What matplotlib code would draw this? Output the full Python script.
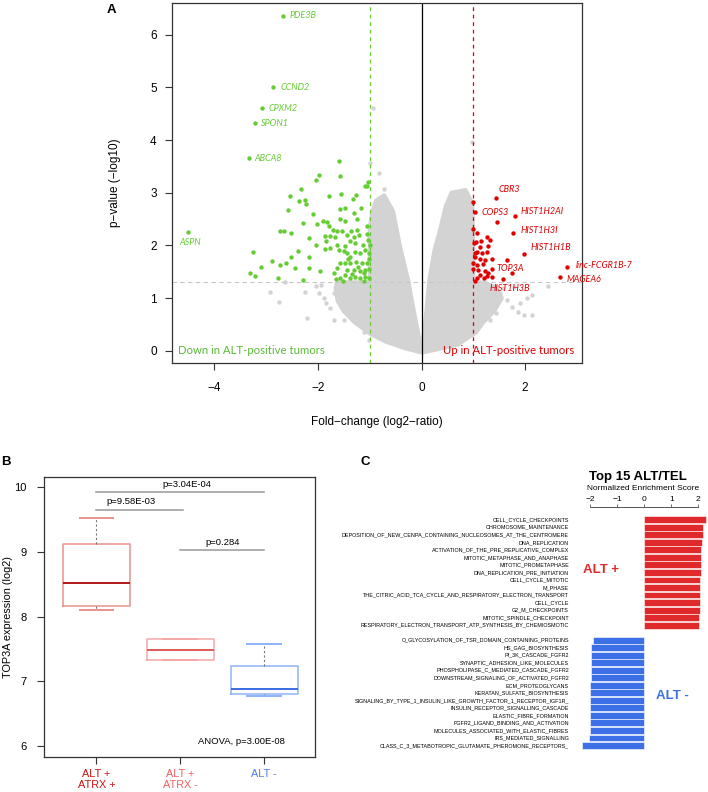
import numpy as np
import matplotlib
matplotlib.use('Agg')
import matplotlib.pyplot as plt

plt.rcParams['font.family'] = ['Liberation Sans', 'DejaVu Sans']

# ---------------- panel A : volcano (log2 fold change vs -log10 p)
green_fc = [-1.59, -1.57, -1.99, -2.03, -1.03, -1.05, -1.10, -2.55, -2.32, -2.36, -2.26, -2.23,
            -1.78, -1.56, -1.33, -1.26, -2.57, -1.58, -1.47, -1.16, -1.30, -2.10, -2.29, -1.90,
            -1.83, -1.78, -2.01, -1.57, -1.47, -1.25, -2.74, -2.65, -2.53, -2.17, -1.71, -1.63,
            -1.53, -1.36, -1.25, -1.05, -1.86, -1.76, -1.67, -1.43, -1.30, -1.20, -1.05, -2.03,
            -1.84, -1.76, -1.87, -1.63, -1.60, -1.47, -1.39, -1.28, -1.13, -1.04, -3.25, -2.39,
            -2.52, -2.88, -2.17, -2.61, -2.74, -2.44, -2.17, -1.97, -3.11, -3.31, -3.21, -2.78,
            -2.28, -1.44, -1.38, -1.28, -1.18, -1.09, -1.57, -1.47, -1.38, -1.26, -1.15, -1.05,
            -1.63, -1.44, -1.31, -1.18, -1.09, -1.70, -1.57, -1.47, -1.38, -1.28, -1.18, -1.09,
            -1.02, -1.12, -1.02, -1.02, -1.22, -1.35, -1.52, -1.12, -1.65, -1.00, -1.02, -1.42,
            -1.50]
green_p = [3.61, 3.32, 3.34, 3.25, 3.21, 3.13, 3.12, 2.94, 3.07, 2.85, 2.86, 2.79,
           2.93, 2.97, 2.88, 2.95, 2.67, 2.69, 2.72, 2.72, 2.61, 2.59, 2.43, 2.47,
           2.45, 2.37, 2.41, 2.50, 2.47, 2.50, 2.28, 2.27, 2.24, 2.14, 2.29, 2.28,
           2.27, 2.28, 2.29, 2.36, 2.18, 2.18, 2.16, 2.19, 2.16, 2.20, 2.22, 2.01,
           2.09, 1.95, 1.93, 2.01, 1.91, 1.99, 2.09, 2.04, 2.01, 2.10, 1.87, 1.89,
           1.78, 1.71, 1.78, 1.66, 1.63, 1.57, 1.57, 1.52, 1.60, 1.48, 1.42, 1.39,
           1.34, 1.85, 1.79, 1.88, 1.85, 1.91, 1.66, 1.66, 1.66, 1.69, 1.66, 1.66,
           1.57, 1.53, 1.53, 1.52, 1.53, 1.47, 1.38, 1.44, 1.38, 1.41, 1.38, 1.41,
           1.38, 1.47, 1.75, 1.55, 1.60, 1.45, 1.33, 1.32, 1.36, 2.00, 1.85, 1.75,
           1.90]

green_genes = ['PDE3B', 'CCND2', 'CPXM2', 'SPON1', 'ABCA8', 'ASPN']
green_gene_fc = [-2.68, -2.86, -3.08, -3.22, -3.33, -4.52]
green_gene_p = [6.36, 5.00, 4.60, 4.32, 3.65, 2.26]

red_fc = [1.00, 1.46, 0.99, 1.08, 1.26, 1.33, 1.15, 1.01, 1.29, 1.07, 1.17, 1.26,
          1.04, 1.13, 1.23, 1.36, 1.66, 1.00, 1.08, 1.19, 1.00, 1.10, 1.23, 1.75,
          1.13, 1.26, 1.36, 1.07, 1.04, 1.20, 1.29, 1.04, 1.12, 1.06]
red_p = [2.83, 2.45, 2.32, 2.23, 2.16, 2.10, 2.09, 2.04, 1.99, 1.88, 1.85, 1.88,
         1.78, 1.74, 1.72, 1.74, 1.72, 1.67, 1.63, 1.65, 1.55, 1.53, 1.52, 1.47,
         1.44, 1.42, 1.41, 1.38, 1.33, 1.38, 1.47, 1.85, 1.98, 2.07]

red_genes = ['CBR3', 'COPS3', 'HIST1H2AI', 'HIST1H3I', 'HIST1H1B', 'TOP3A',
             'linc-FCGR1B-7', 'MAGEA6', 'HIST1H3B']
red_gene_fc = [1.44, 1.04, 1.80, 1.76, 1.97, 1.36, 2.81, 2.68, 1.58]
red_gene_p = [2.90, 2.64, 2.56, 2.24, 1.83, 1.55, 1.59, 1.41, 1.36]

# scattered non-significant genes
gray_fc = [-2.92, -2.75, -2.63, -2.21, -2.25, -2.03, -1.95, -1.98, -1.88, -1.84, -1.76, -1.69,
           -1.50, -1.34, -1.11, -1.69, -1.59, -1.66, -1.02,
           -0.93, -0.99, -0.83, -0.72, -0.80, 0.98, 0.67, 0.88, 0.60,
           2.45, 2.13, 2.03, 1.91, 2.13, 1.97, 1.87, 1.75, 1.65, 1.52, 1.58, 1.44, 1.33, 1.78]
gray_p = [1.12, 0.92, 1.30, 0.62, 1.12, 1.24, 1.25, 1.09, 1.00, 0.90, 0.81, 0.58,
          0.58, 0.68, 0.36, 1.09, 1.19, 1.28, 0.20,
          4.60, 3.56, 3.37, 3.07, 2.88, 3.96, 3.00, 2.98, 2.88,
          1.23, 1.06, 1.00, 0.90, 0.68, 0.68, 0.74, 0.84, 0.96, 1.09, 1.19, 0.71, 0.58, 1.22]

# outline of the dense grey cloud (left and right lobes)
left_cloud_fc = [0.0, -0.35, -0.7, -1.0, -1.3, -1.5, -1.62, -1.66, -1.6, -1.0, -1.0, -0.96,
                 -0.88, -0.72, -0.55, -0.42, -0.26, -0.14, -0.04]
left_cloud_p = [-0.03, 0.06, 0.18, 0.33, 0.55, 0.75, 0.95, 1.2, 1.3, 1.3, 2.3, 2.6,
                2.85, 2.95, 2.65, 2.0, 1.34, 0.71, 0.2]
right_cloud_fc = [0.02, 0.04, 0.10, 0.15, 0.25, 0.36, 0.47, 0.58, 0.85, 0.98, 1.0, 1.0,
                  1.2, 1.45, 1.55, 1.4, 1.2, 1.05, 0.7, 0.3]
right_cloud_p = [-0.03, 0.27, 0.8, 1.34, 1.9, 2.3, 2.75, 3.0, 3.05, 2.8, 2.0, 1.3,
                 1.3, 1.2, 1.0, 0.75, 0.55, 0.35, 0.12, 0.03]

# ---------------- panel B : TOP3A expression
groups = ['ALT +\nATRX +', 'ALT +\nATRX -', 'ALT -']
box_med = [8.52, 7.49, 6.88]
box_q1 = [8.17, 7.33, 6.81]
box_q3 = [9.12, 7.65, 7.23]
box_lo = [8.10, 7.33, 6.78]
box_hi = [9.52, 7.65, 7.57]
pvals = ['p=3.04E-04', 'p=9.58E-03', 'p=0.284']
pairs = [(1, 3), (1, 2.03), (2, 3)]
pair_y = [9.92, 9.65, 9.03]

# ---------------- panel C : GSEA
up_sets = ['CELL_CYCLE_CHECKPOINTS', 'CHROMOSOME_MAINTENANCE',
           'DEPOSITION_OF_NEW_CENPA_CONTAINING_NUCLEOSOMES_AT_THE_CENTROMERE', 'DNA_REPLICATION',
           'ACTIVATION_OF_THE_PRE_REPLICATIVE_COMPLEX', 'MITOTIC_METAPHASE_AND_ANAPHASE',
           'MITOTIC_PROMETAPHASE', 'DNA_REPLICATION_PRE_INITIATION', 'CELL_CYCLE_MITOTIC', 'M_PHASE',
           'THE_CITRIC_ACID_TCA_CYCLE_AND_RESPIRATORY_ELECTRON_TRANSPORT', 'CELL_CYCLE',
           'G2_M_CHECKPOINTS', 'MITOTIC_SPINDLE_CHECKPOINT',
           'RESPIRATORY_ELECTRON_TRANSPORT_ATP_SYNTHESIS_BY_CHEMIOSMOTIC']
up_nes = [2.28, 2.18, 2.18, 2.14, 2.10, 2.09, 2.09, 2.08, 2.06, 2.06, 2.06, 2.06, 2.06, 2.04, 2.01]
down_sets = ['O_GLYCOSYLATION_OF_TSR_DOMAIN_CONTAINING_PROTEINS', 'HS_GAG_BIOSYNTHESIS',
             'PI_3K_CASCADE_FGFR2', 'SYNAPTIC_ADHESION_LIKE_MOLECULES',
             'PHOSPHOLIPASE_C_MEDIATED_CASCADE_FGFR2', 'DOWNSTREAM_SIGNALING_OF_ACTIVATED_FGFR2',
             'ECM_PROTEOGLYCANS', 'KERATAN_SULFATE_BIOSYNTHESIS',
             'SIGNALING_BY_TYPE_1_INSULIN_LIKE_GROWTH_FACTOR_1_RECEPTOR_IGF1R_',
             'INSULIN_RECEPTOR_SIGNALLING_CASCADE', 'ELASTIC_FIBRE_FORMATION',
             'FGFR2_LIGAND_BINDING_AND_ACTIVATION', 'MOLECULES_ASSOCIATED_WITH_ELASTIC_FIBRES',
             'IRS_MEDIATED_SIGNALLING', 'CLASS_C_3_METABOTROPIC_GLUTAMATE_PHEROMONE_RECEPTORS_']
down_nes = [-1.90, -1.95, -1.95, -1.95, -1.95, -1.95, -1.99, -2.01, -2.01, -2.01, -2.01, -2.01,
            -2.01, -2.04, -2.30]

GREEN = '#66CC33'
RED = '#E00000'
GRAY = '#D3D3D3'

fig = plt.figure(figsize=(7.08, 7.92), dpi=100)

# ================= A
ax = fig.add_axes([172/708, 1-363/792, 410/708, 360/792])
ax.fill(left_cloud_fc, left_cloud_p, color=GRAY, lw=3, joinstyle='round', zorder=1)
ax.fill(right_cloud_fc, right_cloud_p, color=GRAY, lw=3, joinstyle='round', zorder=1)
ax.scatter(gray_fc, gray_p, s=10, c=GRAY, lw=0, zorder=2)
ax.axhline(1.3, color='#C8C8C8', lw=0.8, ls=(0, (4, 3)), zorder=2.5)
ax.axvline(0, color='black', lw=0.9, zorder=2.5)
ax.axvline(-1, color=GREEN, lw=0.9, ls=(0, (3, 3)), zorder=2.5)
ax.axvline(1, color=RED, lw=0.9, ls=(0, (3, 3)), zorder=2.5)
ax.scatter(green_fc, green_p, s=10, c=GREEN, lw=0, zorder=3)
ax.scatter(green_gene_fc, green_gene_p, s=10, c=GREEN, lw=0, zorder=3)
ax.scatter(red_fc, red_p, s=10, c=RED, lw=0, zorder=3)
ax.scatter(red_gene_fc, red_gene_p, s=10, c=RED, lw=0, zorder=3)

green_off = [(5, 0, 'left'), (5, 0, 'left'), (5, 0, 'left'), (4.5, 0, 'left'), (4, 0, 'left'),
             (2, -8, 'center')]
for g, x, y, (dx, dy, ha) in zip(green_genes, green_gene_fc, green_gene_p, green_off):
    ax.annotate(g, (x, y), xytext=(dx, dy), textcoords='offset points', ha=ha, va='center',
                fontsize=6.5, style='italic', color=GREEN, family=['Lato', 'DejaVu Sans'],
                annotation_clip=False)
red_off = [(2, 6, 'left'), (4.5, -0.7, 'left'), (4.3, 3, 'left'), (5.5, 1.5, 'left'),
           (5, 5, 'left'), (3, 0.7, 'left'), (6.5, 1, 'left'), (4.6, -2.4, 'left'),
           (4.5, -6.5, 'center')]
for g, x, y, (dx, dy, ha) in zip(red_genes, red_gene_fc, red_gene_p, red_off):
    ax.annotate(g, (x, y), xytext=(dx, dy), textcoords='offset points', ha=ha, va='center',
                fontsize=6.5, style='italic', color=RED, family=['Lato', 'DejaVu Sans'],
                annotation_clip=False)

ax.text(-4.7, 0.0, 'Down in ALT-positive tumors', color='#5DBB3A', fontsize=8.2,
        family=['Lato', 'DejaVu Sans'], va='center', ha='left')
ax.text(2.95, 0.0, 'Up in ALT-positive tumors', color=RED, fontsize=8.2,
        family=['Lato', 'DejaVu Sans'], va='center', ha='right')

ax.set_xlim(-4.82, 3.1)
ax.set_ylim(-0.23, 6.6)
ax.set_xticks([-4, -2, 0, 2])
ax.set_yticks(range(0, 7))
ax.tick_params(length=5, width=0.8, labelsize=8.5, color='#333333')
ax.tick_params(axis='x', pad=8.5)
ax.tick_params(axis='y', pad=6)
for sp in ax.spines.values():
    sp.set_color('#333333')
    sp.set_linewidth(0.9)
ax.set_xlabel('Fold\u2212change (log2\u2212ratio)', fontsize=8.5)
ax.set_ylabel('p\u2212value (\u2212log10)', fontsize=8.5)
ax.xaxis.set_label_coords(0.5, -0.147)
ax.yaxis.set_label_coords(-0.124, 0.5)

# ================= B
bx = fig.add_axes([44.3/708, 1-757/792, 271/708, 280.3/792])
stats = []
for m, q1, q3, lo, hi in zip(box_med, box_q1, box_q3, box_lo, box_hi):
    stats.append(dict(med=m, q1=q1, q3=q3, whislo=lo, whishi=hi, fliers=[]))
edge_cols = ['#E8928C', '#F4A8A8', '#8EB4F6']
med_cols = ['#B01818', '#E05858', '#3A6BE0']
art = bx.bxp(stats, positions=[1, 2, 3], widths=0.8, capwidths=0.4, showfliers=False,
             patch_artist=False,
             whiskerprops=dict(color='#777777', ls=(0, (2, 2)), lw=0.8),
             medianprops=dict(lw=1.4), boxprops=dict(lw=1.1), capprops=dict(lw=1.4))
for i in range(3):
    art['boxes'][i].set_color(edge_cols[i])
    art['medians'][i].set_color(med_cols[i])
    art['caps'][2*i].set_color(edge_cols[i])
    art['caps'][2*i+1].set_color(edge_cols[i])
label_x = [2.08, 1.41, 2.5]
for (a, b), y, t, tx in zip(pairs, pair_y, pvals, label_x):
    bx.plot([a, b], [y, y], color='#999999', lw=1.1)
    bx.text(tx, y + 0.05, t, ha='center', va='bottom', fontsize=6.8)
bx.text(2.73, 6.07, 'ANOVA, p=3.00E-08', ha='center', va='center', fontsize=6.8)
bx.set_xlim(0.38, 3.61)
bx.set_ylim(5.83, 10.16)
bx.set_yticks([6, 7, 8, 9, 10])
bx.set_xticks([1, 2, 3])
bx.set_xticklabels(groups, fontsize=7.8, linespacing=1.15)
for lab, c in zip(bx.get_xticklabels(), ['#CC1111', '#F06060', '#4D7DF5']):
    lab.set_color(c)
bx.tick_params(length=4.7, width=0.8, color='#333333')
bx.tick_params(axis='y', labelsize=8, pad=8)
bx.tick_params(axis='x', pad=4)
for sp in bx.spines.values():
    sp.set_color('#333333')
    sp.set_linewidth(0.9)
bx.set_ylabel('TOP3A expression (log2)', fontsize=7.8)
bx.yaxis.set_label_coords(-0.115, 0.5)

# ================= C
cx = fig.add_axes([582/708, 1-752/792, 126/708, 244.7/792])
up_pos = np.arange(len(up_sets))
down_pos = np.arange(len(down_sets)) + len(up_sets) + 1
cx.barh(up_pos, up_nes, height=0.92, color='#E0292B', edgecolor='white', lw=0.4)
cx.barh(down_pos, down_nes, height=0.92, color='#3D6FE6', edgecolor='white', lw=0.4)
for y, t in zip(np.concatenate([up_pos, down_pos]), up_sets + down_sets):
    cx.text(-2.78, y, t, ha='right', va='center', fontsize=3.85, clip_on=False)
cx.text(-1.61, 6.7, 'ALT +', color='#E0292B', fontsize=9.5, fontweight='bold',
        ha='center', va='center')
cx.text(1.03, 23.4, 'ALT -', color='#3D6FE6', fontsize=9.5, fontweight='bold',
        ha='center', va='center')
cx.set_xlim(-2.297, 2.356)
cx.set_ylim(30.86, -1.66)
for k in ['left', 'right', 'bottom']:
    cx.spines[k].set_visible(False)
cx.spines['top'].set_bounds(-2, 2)
cx.spines['top'].set_color('#555555')
cx.spines['top'].set_linewidth(0.7)
cx.xaxis.tick_top()
cx.set_xticks([-2, -1, 0, 1, 2])
cx.tick_params(axis='x', length=2, width=0.6, pad=1, labelsize=6, color='#555555')
cx.set_yticks([])
fig.text(638/708, 1-476.7/792, 'Top 15 ALT/TEL', fontsize=9.5, fontweight='bold',
         ha='center', va='center')
fig.text(643/708, 1-488.3/792, 'Normalized Enrichment Score', fontsize=6,
         ha='center', va='center')

# panel letters
fig.text(111.7/708, 1-10/792, 'A', fontsize=9.5, fontweight='bold', ha='center', va='center')
fig.text(6/708, 1-461.7/792, 'B', fontsize=9.5, fontweight='bold', ha='center', va='center')
fig.text(365/708, 1-461.7/792, 'C', fontsize=9.5, fontweight='bold', ha='center', va='center')

fig.savefig('out.png', dpi=100)
